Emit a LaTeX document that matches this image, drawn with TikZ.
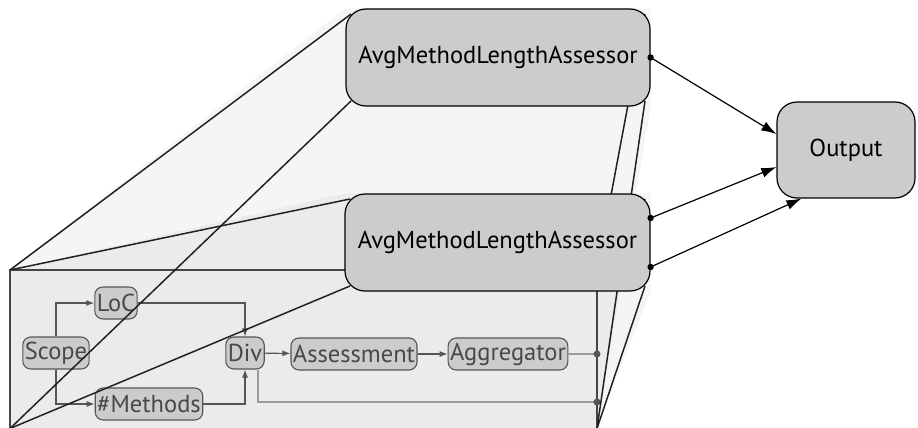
\documentclass[tikz,border=0pt]{standalone}
\usepackage{fontspec}
\setmainfont{PT Sans}
\usetikzlibrary{arrows.meta,calc}

\definecolor{boxgray}{HTML}{CCCCCC}
\definecolor{inkgray}{HTML}{555555}
\definecolor{wiregray}{HTML}{9A9A9A}
\definecolor{conegray}{HTML}{222222}

\pgfdeclarelayer{back}
\pgfdeclarelayer{front}
\pgfsetlayers{back,main,front}

\tikzset{
	unit/.style={draw=black, line width=1.2pt, fill=boxgray, rounded corners=20pt,
		minimum height=97pt, font=\fontsize{24.5}{26}\selectfont},
	part/.style={draw=inkgray, line width=1.1pt, fill=boxgray, text=inkgray!85!black,
		rounded corners=8pt, minimum height=32pt, inner xsep=2pt, inner ysep=0pt,
		font=\fontsize{24.5}{26}\selectfont},
	flow/.style={draw=inkgray, line width=1.1pt, -{Latex[length=8pt,width=6pt]}},
	wire/.style={draw=wiregray, line width=1.1pt},
	feed/.style={draw=black, line width=1.2pt, -{Latex[length=15pt,width=10pt]}},
	cone/.style={draw=conegray, line width=1.5pt},
	frame/.style={draw=inkgray!80!black, line width=1.4pt},
}

\begin{document}
\begin{tikzpicture}[x=1pt,y=-1pt]
	\useasboundingbox (0,0) rectangle (918,428);

	% the two assessors and the output
	\begin{pgfonlayer}{front}
		\node[unit, minimum width=304pt] (avgA) at (498,57.5) {AvgMethodLengthAssessor};
		\node[unit, minimum width=305pt] (avgB) at (497.5,242.5) {AvgMethodLengthAssessor};
		\node[unit, minimum width=138pt, minimum height=96pt] (out) at (846,150) {Output};
	\end{pgfonlayer}

	% corners of the detail box
	\coordinate (dtl) at (10,270);
	\coordinate (dtr) at (597,270);
	\coordinate (dbl) at (10,428.5);
	\coordinate (dbr) at (597,428.5);

	% corners where the cone edges meet the assessors
	\coordinate (anw) at (351,14);
	\coordinate (ane) at (645,14);
	\coordinate (asw) at (351,101);
	\coordinate (ase) at (645,101);
	\coordinate (bnw) at (350,199);
	\coordinate (bne) at (645,199);
	\coordinate (bsw) at (350,286);
	\coordinate (bse) at (645,286);

	% shaded cones
	\begin{pgfonlayer}{back}
		\fill[black, opacity=0.038] (dbl) -- (dtl) -- (avgA.north west) -- (avgA.north east) -- (avgA.south east) -- (dbr) -- cycle;
		\fill[black, opacity=0.038] (dbl) -- (dtl) -- (avgB.north west) -- (avgB.north east) -- (avgB.south east) -- (dbr) -- cycle;
	\end{pgfonlayer}

	% inside the detail box
	\node[part] (scope) at (56,353) {Scope};
	\node[part] (loc) at (116,303) {LoC};
	\node[part] (meth) at (149,404) {\#Methods};
	\node[part] (div) at (245,353) {Div};
	\node[part] (assess) at (354,354) {Assessment};
	\node[part] (aggr) at (508,354) {Aggregator};

	\coordinate (pa) at (597,354);
	\coordinate (pb) at (597,402);

	\draw[flow] (scope.north) |- (loc.west);
	\draw[flow] (scope.south) |- (meth.west);
	\draw[flow] (loc.east) -| (div.north);
	\draw[flow] (meth.east) -| (div.south);
	\draw[flow] (div) -- (assess);
	\draw[flow] (assess) -- (aggr);
	\draw[wire] (aggr.east) -- (pa);
	\draw[wire] ([xshift=13pt]div.south) |- (pb);

	\draw[frame] (dbl) -- (dtl) -- (dtr) -- (dbr);
	\fill[inkgray] (pa) circle (3.5pt);
	\fill[inkgray] (pb) circle (3.5pt);

	% cone edges
	\draw[cone] (dtl) -- (anw);
	\draw[cone] (dtr) -- (ane);
	\draw[cone] (dbl) -- (asw);
	\draw[cone] (dbr) -- (ase);
	\draw[cone] (dtl) -- (bnw);
	\draw[cone] (dtr) -- (bne);
	\draw[cone] (dbl) -- (bsw);
	\draw[cone] (dbr) -- (bse);

	% outputs
	\begin{pgfonlayer}{front}
		\coordinate (oa) at (avgA.east);
		\coordinate (ob) at ([yshift=24.5pt]avgB.east);
		\coordinate (oc) at ([yshift=-24.5pt]avgB.east);
		\draw[feed] (oa) -- ([yshift=16pt]out.west);
		\draw[feed] (ob) -- ([yshift=-17pt]out.west);
		\draw[feed] (oc) -- ([xshift=25pt]out.south west);
		\fill (oa) circle (3.2pt);
		\fill (ob) circle (3.2pt);
		\fill (oc) circle (3.2pt);
	\end{pgfonlayer}
\end{tikzpicture}
\end{document}
